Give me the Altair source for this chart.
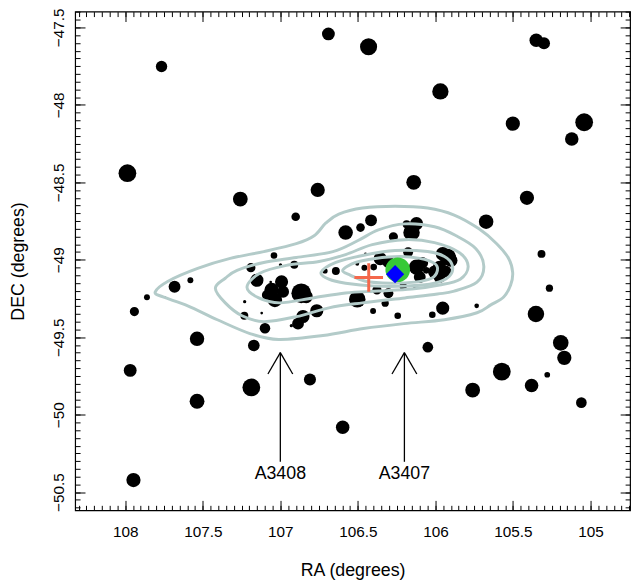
import altair as alt
import pandas as pd

# ---------------- data ----------------
gal_ra = [107.766, 106.690, 106.431, 105.350, 105.300, 105.968, 105.501, 105.041, 105.121, 107.986,
          107.258, 106.759, 106.140, 105.410, 105.673, 106.901, 106.579, 105.316, 105.265, 105.352,
          105.192, 105.169, 105.279, 105.380, 105.572, 105.760, 105.059, 106.049, 106.598, 106.809,
          107.187, 107.537, 107.968, 107.947, 107.537, 107.171, 107.941, 107.860, 107.741, 107.682,
          107.580, 107.190, 107.041, 106.910, 106.999, 106.712, 106.642, 107.151, 107.056, 106.992,
          107.035, 107.087, 106.982, 106.865, 106.833, 107.230, 107.120, 107.232, 106.854, 106.765,
          106.886, 106.929, 107.099, 107.062, 106.415, 106.483, 106.271, 106.154, 106.122, 106.186,
          106.451, 106.398, 106.458, 106.504, 106.356, 106.303, 106.176, 106.122, 106.101, 106.059,
          106.006, 105.974, 105.974, 105.921, 105.953, 105.899, 106.377, 106.303, 106.208, 106.133,
          106.504, 106.402, 106.324, 106.243, 106.020, 105.953, 105.734, 106.085, 105.935]
gal_dec = [-47.752, -47.542, -47.625, -47.583, -47.602, -47.913, -48.121, -48.112, -48.220, -48.441,
           -48.608, -48.549, -48.500, -48.600, -48.754, -48.722, -48.824, -48.962, -49.183, -49.350,
           -49.536, -49.633, -49.742, -49.811, -49.722, -49.841, -49.922, -49.564, -50.081, -49.773,
           -49.824, -49.913, -49.714, -50.422, -49.510, -49.553, -49.334, -49.242, -49.242, -49.174,
           -49.132, -49.051, -48.972, -49.032, -49.032, -49.072, -49.072, -49.132, -49.195, -49.142,
           -49.259, -49.227, -49.206, -49.216, -49.238, -49.270, -49.344, -49.361, -49.366, -49.329,
           -49.412, -49.425, -49.442, -49.144, -48.745, -48.792, -48.851, -48.824, -48.766, -48.770,
           -48.962, -49.047, -49.051, -49.025, -48.993, -49.015, -48.951, -49.047, -49.111, -49.068,
           -49.079, -49.047, -49.111, -48.983, -48.962, -49.004, -49.195, -49.216, -49.170, -49.178,
           -49.255, -49.331, -49.280, -49.361, -49.355, -49.312, -49.297, -49.020, -49.075]
gal_delta = [11.5, 13, 17.3, 13.7, 12.2, 16.5, 14.4, 18, 13.7, 18,
             15, 14.4, 15, 14.4, 14.7, 8.7, 14.7, 8, 7.3, 16.7,
             15.8, 14.4, 5.8, 13.7, 18, 15, 10.8, 10.8, 13.7, 12.2,
             18, 15, 13, 14.4, 14.6, 11.8, 9.3, 6, 1.5, 12,
             6, 9.3, 6.7, 8, 3.3, 5.3, 8, 13.3, 14.7, 13.3,
             14.7, 10, 12, 20, 13.3, 3.3, 2.7, 8, 13.3, 13.3,
             12, 3.3, 10.7, 2.7, 12, 8.7, 9.3, 16.7, 13.3, 8,
             2.7, 6.7, 6, 4, 13.3, 12, 10, 15.5, 12, 6.7,
             13, 13, 12, 17, 14, 13, 9.3, 10, 7.3, 2.7,
             16.7, 6, 7.3, 6.7, 6.7, 13.3, 4.7, 12, 12]

# contour levels (closed curves), RA / DEC vertices
c1_ra = [107.807, 107.724, 107.533, 107.323, 107.107, 106.897, 106.782, 106.706, 106.623, 106.470,
         106.260, 106.050, 105.879, 105.719, 105.605, 105.528, 105.502, 105.515, 105.560, 105.643,
         105.732, 105.942, 106.203, 106.464, 106.725, 107.011, 107.196, 107.406, 107.597, 107.756]
c1_dec = [-49.208, -49.138, -49.055, -48.991, -48.947, -48.896, -48.845, -48.762, -48.705, -48.666,
          -48.654, -48.666, -48.711, -48.800, -48.896, -48.991, -49.081, -49.163, -49.240, -49.291,
          -49.342, -49.387, -49.412, -49.444, -49.489, -49.514, -49.476, -49.387, -49.297, -49.240]
c2_ra = [107.419, 107.355, 107.279, 107.107, 106.897, 106.661, 106.502, 106.368, 106.197, 106.006,
         105.866, 105.739, 105.688, 105.732, 105.879, 105.987, 106.197, 106.470, 106.687, 106.897,
         107.107, 107.247, 107.355]
c2_dec = [-49.183, -49.119, -49.068, -49.017, -48.985, -48.947, -48.877, -48.807, -48.768, -48.787,
          -48.845, -48.928, -49.042, -49.144, -49.202, -49.221, -49.246, -49.278, -49.310, -49.367,
          -49.399, -49.361, -49.278]
c3_ra = [107.215, 107.132, 106.961, 106.750, 106.579, 106.407, 106.197, 106.006, 105.847, 105.789,
         105.840, 105.974, 106.152, 106.368, 106.579, 106.789, 107.004, 107.139]
c3_dec = [-49.176, -49.087, -49.036, -49.011, -48.966, -48.902, -48.870, -48.889, -48.953, -49.042,
          -49.125, -49.163, -49.189, -49.202, -49.214, -49.246, -49.278, -49.246]
c4_ra = [106.737, 106.642, 106.470, 106.260, 106.050, 105.942, 105.891, 105.910, 106.006, 106.197,
         106.388, 106.579, 106.687]
c4_dec = [-49.081, -49.017, -48.972, -48.940, -48.947, -48.979, -49.036, -49.106, -49.151, -49.170,
          -49.170, -49.151, -49.125]
c5_ra = [106.598, 106.515, 106.388, 106.229, 106.101, 106.006, 105.987, 106.025, 106.133, 106.292,
         106.451, 106.547]
c5_dec = [-49.068, -49.017, -48.991, -48.979, -48.991, -49.023, -49.068, -49.119, -49.144, -49.151,
          -49.138, -49.100]

# special positions
bcg_ra, bcg_dec = [106.243], [-49.064]
xray_ra, xray_dec = [106.260], [-49.093]
cen_ra, cen_dec = [106.430], [-49.114]

# cluster annotations
clusters = ["A3408", "A3407"]
arrow_ra = [107.0, 106.2]
arrow_tip = -49.599
arrow_tail = -50.304
head_dra = 0.08
head_dec = -49.737
label_dec = -50.385

# axis ticks
x_major = [105, 105.5, 106, 106.5, 107, 107.5, 108]
y_major = [-50.5, -50, -49.5, -49, -48.5, -48, -47.5]
x_minor = [round(104.75 + 0.05 * i, 2) for i in range(72)]
y_minor = [round(-50.6 + 0.05 * i, 2) for i in range(65)]

# ---------------- frames ----------------
gal = pd.DataFrame({"ra": gal_ra, "dec": gal_dec, "delta": gal_delta})
rows = []
for cid, (rr, dd) in enumerate([(c1_ra, c1_dec), (c2_ra, c2_dec), (c3_ra, c3_dec),
                                 (c4_ra, c4_dec), (c5_ra, c5_dec)]):
    for i, (r, d) in enumerate(zip(rr, dd)):
        rows.append({"level": cid, "idx": i, "ra": r, "dec": d})
cont = pd.DataFrame(rows)

seg = []
for name, r in zip(clusters, arrow_ra):
    seg.append({"ra": r, "dec": arrow_tip, "ra2": r, "dec2": arrow_tail})
    seg.append({"ra": r, "dec": arrow_tip, "ra2": r - head_dra, "dec2": head_dec})
    seg.append({"ra": r, "dec": arrow_tip, "ra2": r + head_dra, "dec2": head_dec})
segs = pd.DataFrame(seg)
labs = pd.DataFrame({"name": clusters, "ra": arrow_ra, "dec": [label_dec] * 2})

xs = alt.Scale(domain=[104.745, 108.323], reverse=True, nice=False, zero=False)
ys = alt.Scale(domain=[-50.617, -47.398], nice=False, zero=False)
FONT = "Liberation Sans"


def xa(**kw):
    return alt.X("ra:Q", scale=xs, **kw)


def ya(**kw):
    return alt.Y("dec:Q", scale=ys, **kw)


def mk_axis(orient, values, size, labels=False, title=None, **kw):
    return alt.Axis(orient=orient, values=values, tickSize=size, offset=-size, domain=False,
                    grid=False, labels=labels, title=title, tickColor="black", tickWidth=1,
                    labelFont=FONT, labelFontSize=15.5, labelColor="black",
                    titleFont=FONT, titleFontSize=18, titleFontWeight="normal",
                    titleColor="black", **kw)


dummy = pd.DataFrame({"ra": [106.5], "dec": [-49.0]})

ax_main = alt.Chart(dummy).mark_point(opacity=0).encode(
    x=xa(axis=mk_axis("bottom", x_major, 10, labels=True, title="RA (degrees)",
                      labelExpr="toString(datum.value)", labelPadding=15, titlePadding=22)),
    y=ya(axis=mk_axis("left", y_major, 10, labels=True, title="DEC (degrees)",
                      labelExpr="replace(toString(datum.value), '-', '\u2212')",
                      labelAngle=270, labelAlign="center", labelBaseline="bottom",
                      labelPadding=9, titlePadding=24)),
)
ax_minor = alt.Chart(dummy).mark_point(opacity=0).encode(
    x=xa(axis=mk_axis("bottom", x_minor, 5)),
    y=ya(axis=mk_axis("left", y_minor, 5)),
)
ax_top = alt.Chart(dummy).mark_point(opacity=0).encode(
    x=xa(axis=mk_axis("top", x_major, 10)),
    y=ya(axis=mk_axis("right", y_major, 10)),
)
ax_top_minor = alt.Chart(dummy).mark_point(opacity=0).encode(
    x=xa(axis=mk_axis("top", x_minor, 5)),
    y=ya(axis=mk_axis("right", y_minor, 5)),
)

# Vega symbols: diameter = sqrt(size)
points = alt.Chart(gal).mark_circle(color="black", opacity=1).encode(
    x=xa(axis=None), y=ya(axis=None),
    size=alt.Size("delta:Q", scale=alt.Scale(type="pow", exponent=2, domain=[0, 20],
                                              range=[0, 400]), legend=None),
)

contours = alt.Chart(cont).mark_line(color="#b3cbc9", strokeWidth=3,
                                     interpolate="cardinal-closed").encode(
    x=xa(axis=None), y=ya(axis=None),
    detail="level:N", order="idx:Q",
)

arrows = alt.Chart(segs).mark_rule(color="black", strokeWidth=1.3).encode(
    x=xa(axis=None), y=ya(axis=None), x2="ra2:Q", y2="dec2:Q",
)
labels = alt.Chart(labs).mark_text(font=FONT, fontSize=18, color="black",
                                   baseline="middle", align="center").encode(
    x=xa(axis=None), y=ya(axis=None), text="name:N",
)

bcg = alt.Chart(pd.DataFrame({"ra": bcg_ra, "dec": bcg_dec})).mark_circle(
    color="#36c936", opacity=1, size=625).encode(x=xa(axis=None), y=ya(axis=None))
xray = alt.Chart(pd.DataFrame({"ra": xray_ra, "dec": xray_dec})).mark_point(
    shape="diamond", filled=True, color="#0000ff", opacity=1, size=340).encode(
    x=xa(axis=None), y=ya(axis=None))
cen = alt.Chart(pd.DataFrame({"ra": cen_ra, "dec": cen_dec})).mark_point(
    shape="M-1,0L1,0M0,-1L0,1", filled=False, color="#f4674b", opacity=1,
    strokeWidth=3, size=841).encode(x=xa(axis=None), y=ya(axis=None))

chart = alt.layer(
    ax_main, ax_minor, ax_top, ax_top_minor,
    points, contours, arrows, labels, bcg, xray, cen,
).resolve_axis(x="independent", y="independent").properties(
    width=562, height=505,
    autosize=alt.AutoSizeParams(type="none"),
    padding={"left": 68, "top": 0, "right": 5, "bottom": 74},
).configure_view(stroke="black", strokeWidth=1.2)

chart.save("out.html", embed_options={"renderer": "svg", "actions": False})
